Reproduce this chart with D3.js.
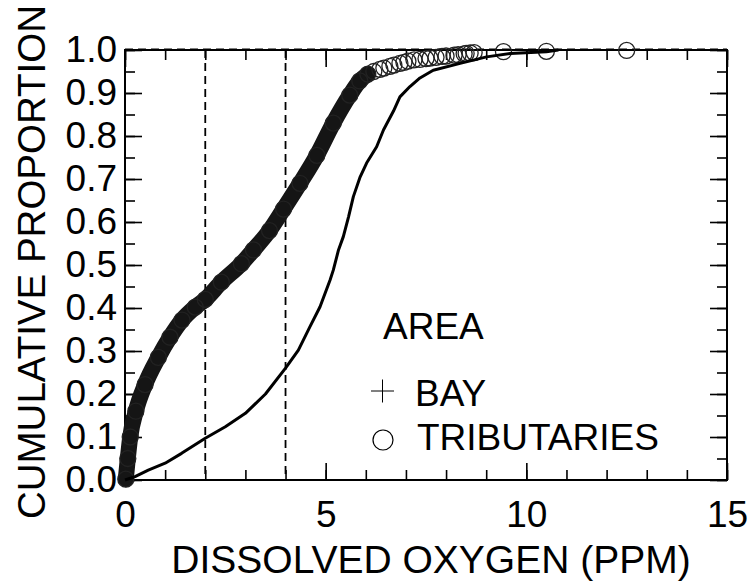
<!DOCTYPE html>
<html>
<head>
<meta charset="utf-8">
<script src="https://cdn.jsdelivr.net/npm/d3@7"></script>
<style>
    body { margin: 0; background: #fff; }
    text { font-family: 'Liberation Sans', Arial, sans-serif; }
</style>
</head>
<body>
<div id="chart-area"></div>
<script>
'use strict';

// cumulative distribution
let bayDO = [0, 0.25, 0.58, 1.0, 1.41, 2.0, 2.5, 3.0, 3.5, 4.0, 4.32, 4.6, 4.86,
    5.11, 5.19, 5.32, 5.44, 5.57, 5.69, 5.86, 6.02, 6.27, 6.44, 6.69, 6.85,
    7.1, 7.35, 7.68, 8.35, 9.01, 9.6, 10.5, 10.8];
let bayProp = [0, 0.008, 0.023, 0.039, 0.062, 0.097, 0.124, 0.155, 0.2, 0.26,
    0.302, 0.355, 0.403, 0.465, 0.488, 0.535, 0.566, 0.612, 0.659, 0.705, 0.737,
    0.775, 0.814, 0.858, 0.891, 0.915, 0.935, 0.953, 0.969, 0.984, 0.992, 0.996, 1.0];

let tribDO = [0.02, 0.07, 0.13, 0.27, 0.5, 0.83, 1.12, 1.42, 1.75, 2.0, 2.4,
    2.9, 3.2, 3.6, 3.95, 4.36, 4.78, 5.19, 5.6, 5.85, 6.05, 6.2, 6.35, 6.45,
    6.6, 6.7, 6.85, 6.95, 7.05, 7.2, 7.35, 7.5, 7.6, 7.75, 7.9, 8.0, 8.2, 8.3,
    8.45, 8.5, 8.6, 8.7, 9.43, 10.5, 12.5];
let tribProp = [0.002, 0.05, 0.1, 0.16, 0.222, 0.285, 0.332, 0.372, 0.402,
    0.42, 0.46, 0.503, 0.535, 0.58, 0.63, 0.69, 0.755, 0.83, 0.895, 0.928,
    0.944, 0.95, 0.955, 0.958, 0.962, 0.965, 0.969, 0.971, 0.974, 0.977, 0.978,
    0.98, 0.981, 0.983, 0.985, 0.986, 0.988, 0.989, 0.991, 0.992, 0.993, 0.994,
    0.996, 0.997, 0.999];

let xMajor = [0, 5, 10, 15];
let xMinor = d3.range(0, 16, 1);
let yMajor = d3.range(0, 11).map((d) => d / 10);
let yMinor = d3.range(0, 21).map((d) => d / 20);
let refX = [2, 4];
let refY = [1.0];
let legendTitle = 'AREA';
let legendLabels = ['BAY', 'TRIBUTARIES'];

let margin = { left: 125, right: 25, top: 50, bottom: 104 };
let width = 752 - margin.left - margin.right;
let height = 584 - margin.top - margin.bottom;
let font = "'Liberation Sans', Arial, sans-serif";

let svg = d3.select('#chart-area').append('svg')
    .attr('width', 752)
    .attr('height', 584);

let g = svg.append('g')
    .attr('transform', 'translate(' + margin.left + ',' + margin.top + ')');

let x = d3.scaleLinear().domain([0, 15]).range([0, width]);
let y = d3.scaleLinear().domain([0, 1]).range([height, 0]);

function tidy(sel, size) {
    sel.select('.domain').remove();
    sel.selectAll('line').attr('stroke', '#000').attr('stroke-width', 1.6);
    sel.attr('font-family', font).attr('font-size', size);
}

// axes, ticks pointing into the plot
g.append('g').attr('transform', 'translate(0,' + height + ')')
    .call(d3.axisBottom(x).tickValues(xMinor).tickSize(-10).tickFormat(''))
    .call(tidy, 37);
g.append('g').attr('transform', 'translate(0,' + height + ')')
    .call(d3.axisBottom(x).tickValues(xMajor).tickSize(-17).tickPadding(21)
        .tickFormat(d3.format('d')))
    .call(tidy, 37);
g.append('g')
    .call(d3.axisTop(x).tickValues(xMinor).tickSize(-10).tickFormat(''))
    .call(tidy, 37);
g.append('g')
    .call(d3.axisTop(x).tickValues(xMajor).tickSize(-17).tickFormat(''))
    .call(tidy, 37);
g.append('g')
    .call(d3.axisLeft(y).tickValues(yMinor).tickSize(-10).tickFormat(''))
    .call(tidy, 37);
g.append('g')
    .call(d3.axisLeft(y).tickValues(yMajor).tickSize(-17).tickPadding(8)
        .tickFormat(d3.format('.1f')))
    .call(tidy, 37);
g.append('g').attr('transform', 'translate(' + width + ',0)')
    .call(d3.axisRight(y).tickValues(yMinor).tickSize(-10).tickFormat(''))
    .call(tidy, 37);
g.append('g').attr('transform', 'translate(' + width + ',0)')
    .call(d3.axisRight(y).tickValues(yMajor).tickSize(-17).tickFormat(''))
    .call(tidy, 37);

g.append('rect')
    .attr('width', width)
    .attr('height', height)
    .attr('fill', 'none')
    .attr('stroke', '#000')
    .attr('stroke-width', 2);

// reference lines
g.selectAll('.ref_x')
    .data(refX)
    .enter()
    .append('line')
        .attr('class', 'ref_x')
        .attr('x1', (d) => x(d))
        .attr('x2', (d) => x(d))
        .attr('y1', 0)
        .attr('y2', height)
        .attr('stroke', '#000')
        .attr('stroke-width', 1.8)
        .attr('stroke-dasharray', '8,5');

g.selectAll('.ref_y')
    .data(refY)
    .enter()
    .append('line')
        .attr('class', 'ref_y')
        .attr('x1', 0)
        .attr('x2', width)
        .attr('y1', (d) => y(d) - 1)
        .attr('y2', (d) => y(d) - 1)
        .attr('stroke', '#000')
        .attr('stroke-width', 1.2)
        .attr('stroke-dasharray', '8,5');

// tributaries: points so dense they merge into a band
let trib = tribDO.map((d, i) => [d, tribProp[i]]);
let line = d3.line()
    .x((d) => x(d[0]))
    .y((d) => y(d[1]));

g.append('path')
    .datum(trib.filter((d) => d[0] <= 6.05))
    .attr('d', line.curve(d3.curveMonotoneX))
    .attr('fill', 'none')
    .attr('stroke', '#151515')
    .attr('stroke-width', 16)
    .attr('stroke-linecap', 'round')
    .attr('stroke-linejoin', 'round');
line.curve(d3.curveLinear);

g.selectAll('.trib')
    .data(trib)
    .enter()
    .append('circle')
        .attr('class', 'trib')
        .attr('cx', (d) => x(d[0]))
        .attr('cy', (d) => y(d[1]))
        .attr('r', 8)
        .attr('fill', 'none')
        .attr('stroke', '#222')
        .attr('stroke-width', 1.3);

// bay
let bay = bayDO.map((d, i) => [d, bayProp[i]]);
g.append('path')
    .datum(bay)
    .attr('d', line)
    .attr('fill', 'none')
    .attr('stroke', '#000')
    .attr('stroke-width', 3)
    .attr('stroke-linejoin', 'round');

// titles
g.append('text')
    .attr('x', width / 2 + 5)
    .attr('y', height + 93)
    .attr('font-size', '39px')
    .attr('text-anchor', 'middle')
    .text('DISSOLVED OXYGEN (PPM)');

g.append('text')
    .attr('transform', 'rotate(-90)')
    .attr('x', -height / 2 + 3)
    .attr('y', -80)
    .attr('font-size', '38.5px')
    .attr('text-anchor', 'middle')
    .text('CUMULATIVE PROPORTION');

// legend
let lg = svg.append('g').attr('font-size', '37px');
lg.append('text')
    .attr('x', 383)
    .attr('y', 339)
    .text(legendTitle);

lg.append('path')
    .attr('d', 'M371,391H394M382.5,379.5V402.5')
    .attr('stroke', '#000')
    .attr('stroke-width', 1);
lg.append('circle')
    .attr('cx', 383)
    .attr('cy', 440)
    .attr('r', 10)
    .attr('fill', 'none')
    .attr('stroke', '#000')
    .attr('stroke-width', 1.2);

lg.selectAll('.lab')
    .data(legendLabels)
    .enter()
    .append('text')
        .attr('class', 'lab')
        .attr('x', (d, i) => 415 + i * 2)
        .attr('y', (d, i) => 406 + i * 44)
        .text((d) => d);
</script>
</body>
</html>
